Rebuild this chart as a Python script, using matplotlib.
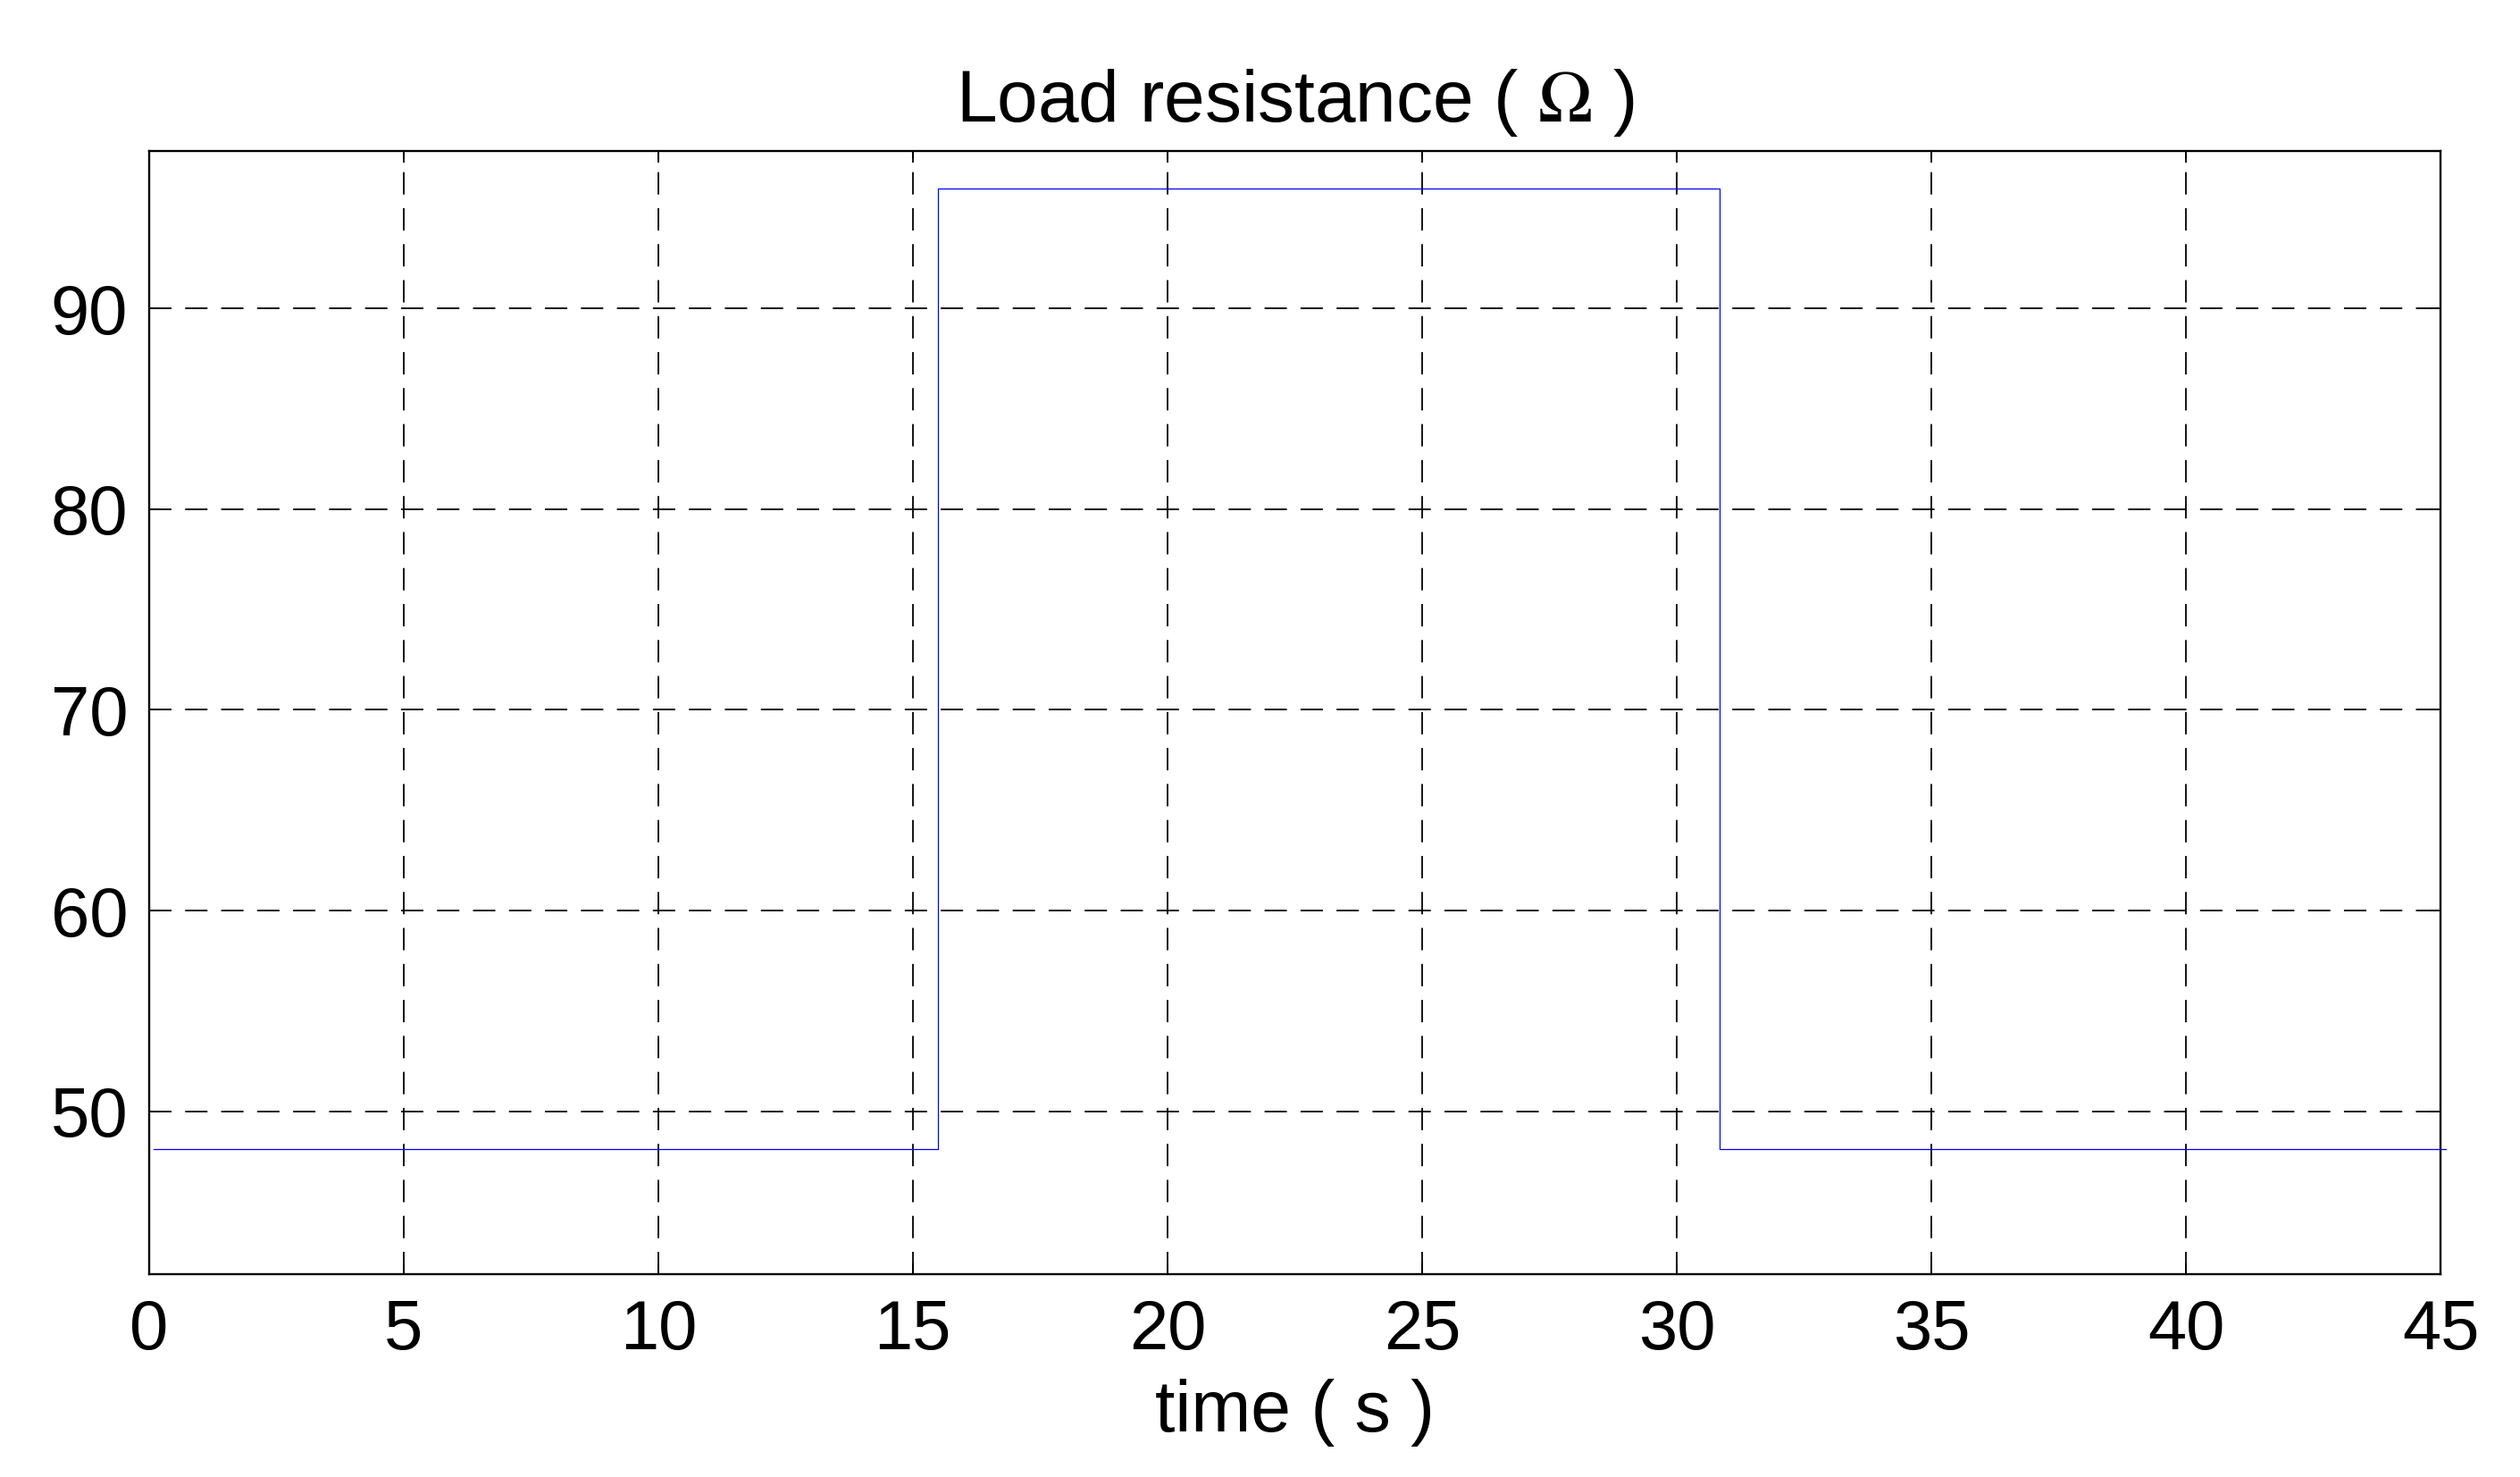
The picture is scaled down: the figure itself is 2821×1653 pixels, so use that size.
import matplotlib
matplotlib.use("Agg")
import matplotlib.pyplot as plt

# Load resistance profile (step changes)
time_s = [0.1, 15.5, 30.85, 45.1]
resistance_ohm = [48.1, 95.95, 48.1, 48.1]

x_ticks = [0, 5, 10, 15, 20, 25, 30, 35, 40, 45]
y_ticks = [50, 60, 70, 80, 90]

plt.rcParams['font.family'] = ['Liberation Sans', 'DejaVu Sans']
plt.rcParams['mathtext.fontset'] = 'stix'
plt.rcParams['lines.scale_dashes'] = False

fig = plt.figure(figsize=(28.21, 16.53), dpi=100, facecolor='white')
ax = fig.add_axes([0.0591, 0.1375, 0.9094, 0.7603])

ax.plot(time_s, resistance_ohm, drawstyle='steps-post', color='#0000ff',
        linewidth=0.9, clip_on=False, zorder=3)

ax.set_xlim(0, 45)
ax.set_ylim(41.9, 97.84)
ax.set_xticks(x_ticks)
ax.set_yticks(y_ticks)

ax.grid(True, color='black', linewidth=1.3, dashes=(18, 11))
ax.set_axisbelow(True)

ax.tick_params(direction='in', length=9, width=1.3, labelsize=56,
               top=True, right=True)
ax.tick_params(axis='x', pad=20)
ax.tick_params(axis='y', pad=17)
for spine in ax.spines.values():
    spine.set_linewidth(1.7)

ax.set_title('Load resistance ( $\\Omega$ )', fontsize=59, pad=24)
ax.set_xlabel('time ( s )', fontsize=58, labelpad=12)

fig.savefig('out.png', dpi=100, facecolor='white')
